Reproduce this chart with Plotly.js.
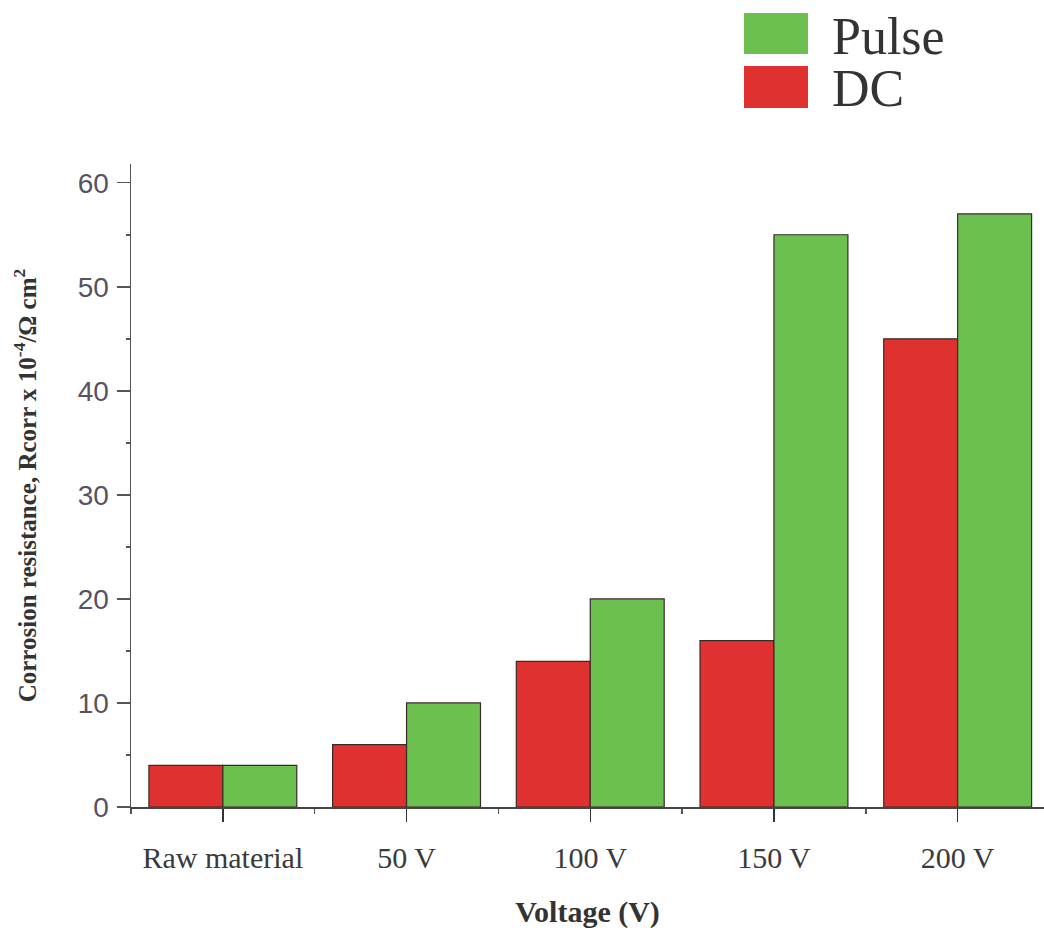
<!DOCTYPE html>
<html><head><meta charset="utf-8">
<script src="https://cdn.plot.ly/plotly-3.0.1.min.js"></script>
<style>html,body{margin:0;padding:0;background:#fff}</style>
</head><body><div id="chart" style="width:1044px;height:934px"></div>
<script>
const categories = ["Raw material", "50 V", "100 V", "150 V", "200 V"];
const dcValues = [4, 6, 14, 16, 45];
const pulseValues = [4, 10, 20, 55, 57];
const seriesNames = ["DC", "Pulse"];
const dcColor = "#e03131";
const pulseColor = "#6cc04f";
const yTicks = [0, 10, 20, 30, 40, 50, 60];

const xIdx = categories.map((c, i) => i);
const barLine = {color: "#3a2a2a", width: 1.2};

const traces = [
  {type: "bar", name: seriesNames[0], x: xIdx, y: dcValues, marker: {color: dcColor, line: barLine}},
  {type: "bar", name: seriesNames[1], x: xIdx, y: pulseValues, marker: {color: pulseColor, line: barLine}}
];

const serif = "Liberation Serif, Times New Roman, serif";
const layout = {
  width: 1044, height: 934,
  margin: {l: 131, r: 0, t: 164, b: 127},
  paper_bgcolor: "#fff", plot_bgcolor: "#fff",
  barmode: "group", bargap: 0.195, bargroupgap: 0,
  showlegend: false,
  xaxis: {
    range: [-0.5, 4.47], tickmode: "array", tickvals: xIdx, ticktext: categories,
    ticks: "outside", ticklen: 13, tickwidth: 1.5, tickcolor: "#333",
    showline: true, linecolor: "#444", linewidth: 1.5, showgrid: false, zeroline: false,
    tickfont: {family: serif, size: 30, color: "#3a3a3a"},
    ticklabelstandoff: 10,
    minor: {tickmode: "linear", tick0: 0.5, dtick: 1, ticks: "outside", ticklen: 5, tickcolor: "#555", showgrid: false},
    title: {text: "<b>Voltage (V)</b>", font: {family: serif, size: 30, color: "#333"}, standoff: 28}
  },
  yaxis: {
    range: [0, 61.8], tickmode: "array", tickvals: yTicks,
    ticks: "outside", ticklen: 13, tickwidth: 1.5, tickcolor: "#555",
    showline: true, linecolor: "#555", linewidth: 1.5, showgrid: false, zeroline: false,
    tickfont: {family: "Liberation Sans, Arial, sans-serif", size: 28, color: "#57525f"},
    ticklabelstandoff: 2,
    minor: {tickmode: "linear", tick0: 5, dtick: 10, ticks: "outside", ticklen: 4, tickcolor: "#555", showgrid: false},
    title: {text: "<b>Corrosion resistance, Rcorr x 10<sup>-4</sup>/Ω cm<sup>2</sup></b>", font: {family: serif, size: 25, color: "#333"}, standoff: 34}
  },
  shapes: [
    {type: "rect", xref: "paper", yref: "paper", x0: (744-131)/913, x1: (808-131)/913, y0: (807-54)/643, y1: (807-13)/643, fillcolor: pulseColor, line: {width: 0}},
    {type: "rect", xref: "paper", yref: "paper", x0: (744-131)/913, x1: (808-131)/913, y0: (807-108)/643, y1: (807-66)/643, fillcolor: dcColor, line: {width: 0}}
  ],
  annotations: [
    {xref: "paper", yref: "paper", x: (830-131)/913, y: (807-36)/643, xanchor: "left", yanchor: "middle", showarrow: false, text: seriesNames[1], font: {family: serif, size: 52, color: "#333"}},
    {xref: "paper", yref: "paper", x: (830-131)/913, y: (807-88)/643, xanchor: "left", yanchor: "middle", showarrow: false, text: seriesNames[0], font: {family: serif, size: 52, color: "#333"}}
  ]
};
Plotly.newPlot("chart", traces, layout, {displayModeBar: false, staticPlot: true});
</script></body></html>
